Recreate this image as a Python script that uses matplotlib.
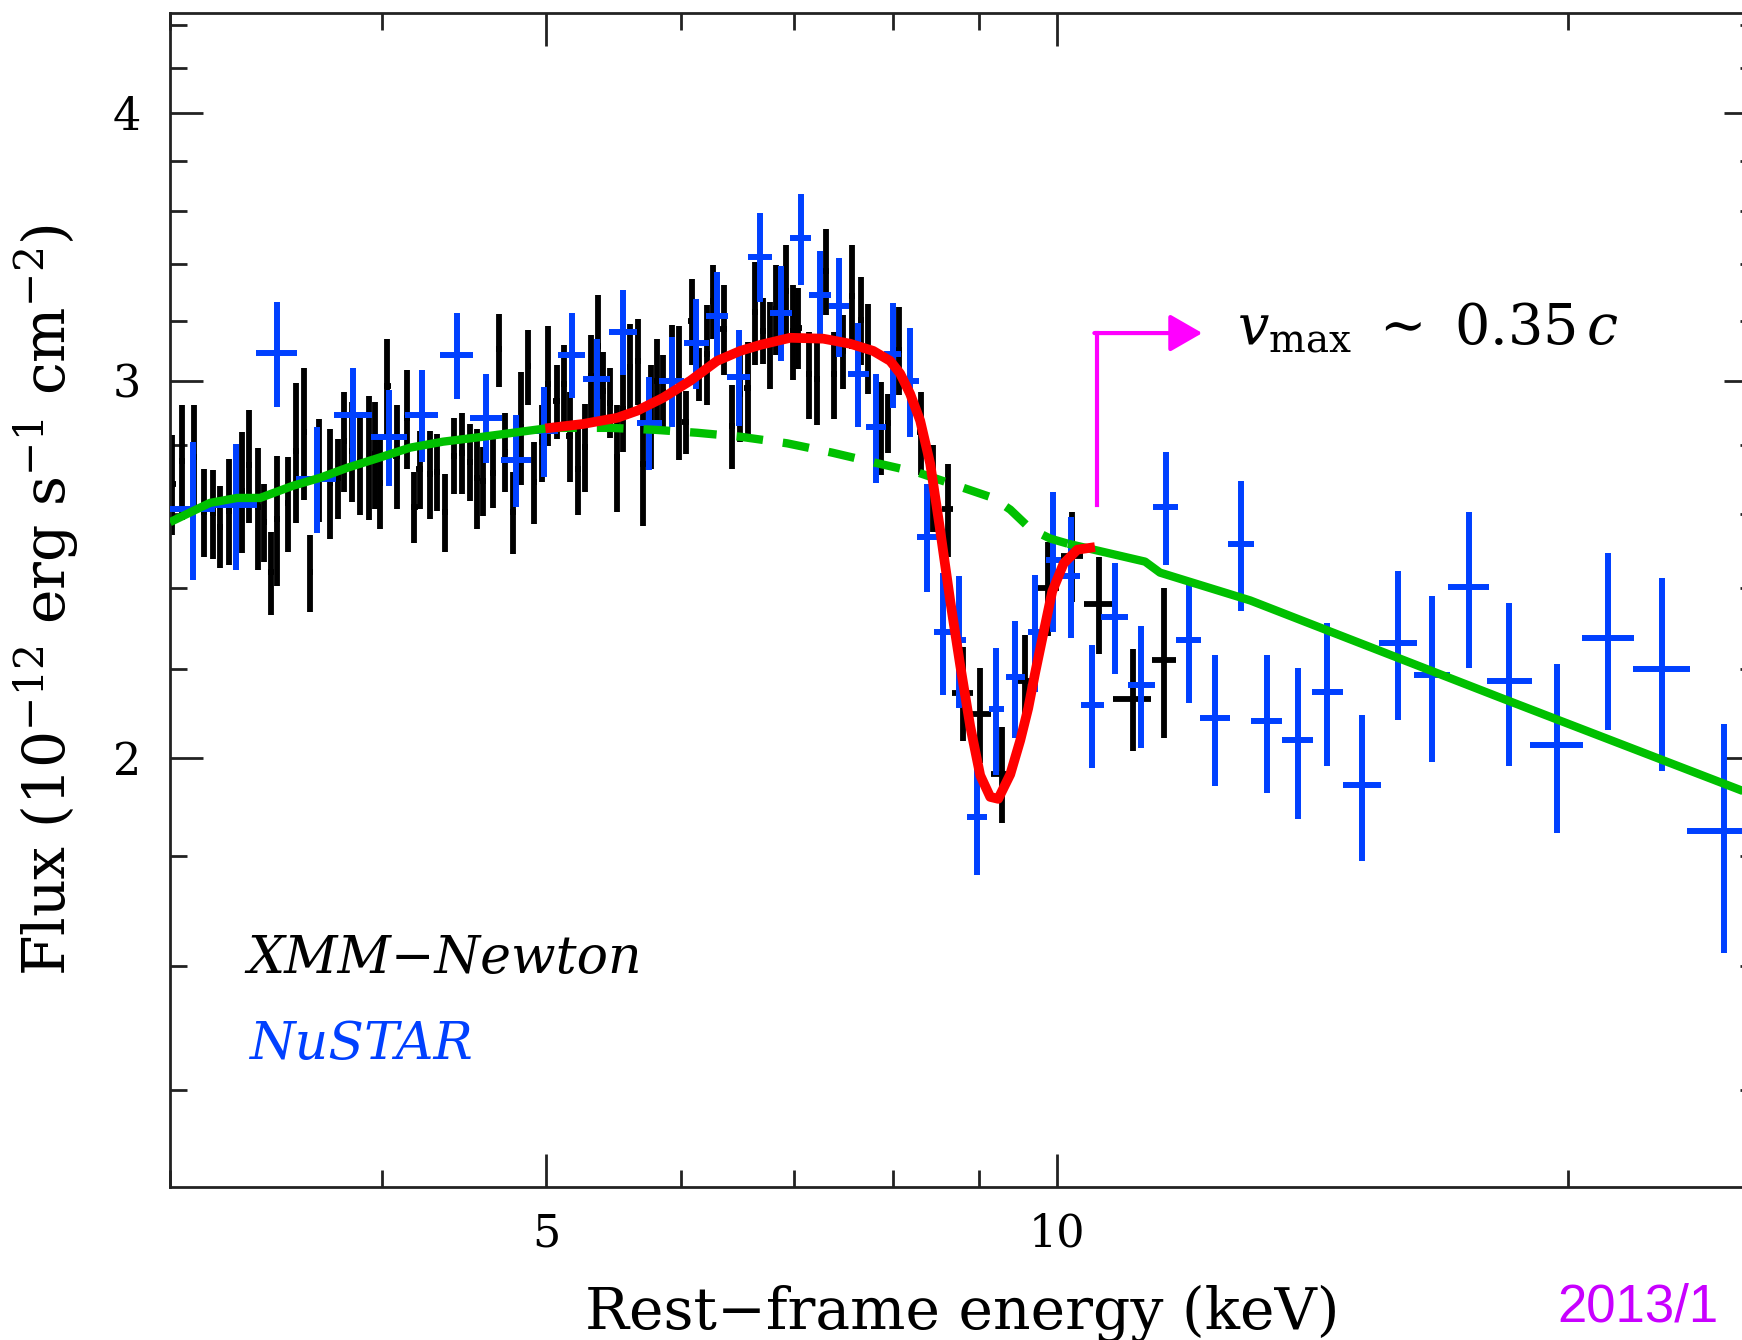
import matplotlib
matplotlib.use('Agg')
import matplotlib.pyplot as plt
from matplotlib.ticker import NullFormatter

plt.rcParams['font.family'] = 'DejaVu Serif'
plt.rcParams['mathtext.fontset'] = 'dejavuserif'

# XMM-Newton spectrum (keV, 1e-12 erg/s/cm2)
xmm_e = [3.01, 3.05, 3.10, 3.14, 3.18, 3.21, 3.25, 3.31, 3.34, 3.38, 3.41, 3.44, 3.47, 3.52, 3.56,
         3.60, 3.63, 3.67, 3.73, 3.77, 3.80, 3.84, 3.88, 3.93, 3.96, 3.99, 4.03, 4.08, 4.14, 4.18,
         4.21, 4.27, 4.31, 4.36, 4.41, 4.46, 4.51, 4.55, 4.59, 4.65, 4.69, 4.73, 4.78, 4.83, 4.88,
         4.92, 4.97, 5.01, 5.07, 5.12, 5.16, 5.22, 5.27, 5.31, 5.36, 5.40, 5.45, 5.50, 5.55, 5.60,
         5.66, 5.70, 5.76, 5.81, 5.86, 5.93, 5.99, 6.04, 6.09, 6.15, 6.22, 6.27, 6.36, 6.43, 6.50,
         6.57, 6.64, 6.71, 6.77, 6.83, 6.92, 6.99, 7.04, 7.14, 7.22, 7.31, 7.39, 7.48, 7.57, 7.66,
         7.74, 7.87, 7.95, 8.07, 8.31, 8.45, 8.62, 8.80, 9.01, 9.28, 9.58, 9.88, 10.20, 10.58,
         11.08, 11.57]
xmm_f = [2.686, 2.753, 2.763, 2.606, 2.602, 2.565, 2.609, 2.666, 2.741, 2.620, 2.577, 2.442, 2.587,
         2.630, 2.783, 2.840, 2.442, 2.728, 2.689, 2.703, 2.813, 2.783, 2.749, 2.768, 2.773, 2.689,
         2.984, 2.768, 2.882, 2.620, 2.728, 2.714, 2.720, 2.605, 2.768, 2.776, 2.750, 2.703, 2.694,
         2.718, 3.103, 2.780, 2.606, 2.854, 3.047, 2.691, 2.808, 2.990, 2.936, 2.990, 2.828, 2.730,
         2.795, 3.016, 3.115, 2.968, 2.930, 2.763, 2.910, 3.045, 3.065, 2.744, 2.889, 3.000, 2.963,
         3.032, 2.968, 2.869, 3.200, 3.021, 3.088, 3.269, 3.173, 2.858, 2.957, 2.976, 3.229, 3.166,
         3.120, 3.242, 3.305, 3.164, 3.176, 3.021, 3.006, 3.376, 3.021, 3.098, 3.287, 3.203, 3.108,
         2.854, 2.866, 3.101, 2.838, 2.675, 2.613, 2.145, 2.097, 1.966, 2.173, 2.402, 2.485, 2.359,
         2.132, 2.223]
xmm_err = [0.144, 0.169, 0.159, 0.123, 0.124, 0.113, 0.149, 0.172, 0.165, 0.172, 0.107, 0.109, 0.181,
           0.134, 0.209, 0.201, 0.101, 0.151, 0.159, 0.116, 0.151, 0.150, 0.152, 0.184, 0.159, 0.130,
           0.154, 0.155, 0.153, 0.101, 0.113, 0.127, 0.113, 0.108, 0.113, 0.121, 0.115, 0.145, 0.101,
           0.102, 0.122, 0.117, 0.115, 0.173, 0.123, 0.119, 0.116, 0.193, 0.117, 0.129, 0.137, 0.132,
           0.132, 0.136, 0.174, 0.128, 0.110, 0.159, 0.130, 0.144, 0.142, 0.177, 0.161, 0.139, 0.123,
           0.153, 0.214, 0.097, 0.148, 0.086, 0.166, 0.130, 0.153, 0.129, 0.148, 0.152, 0.179, 0.112,
           0.146, 0.157, 0.167, 0.162, 0.137, 0.141, 0.145, 0.156, 0.141, 0.123, 0.184, 0.151, 0.150,
           0.143, 0.091, 0.147, 0.127, 0.125, 0.131, 0.109, 0.107, 0.102, 0.109, 0.121, 0.119, 0.122,
           0.116, 0.179]
xmm_de = ([0.013] * 26 + [0.018] * 21 + [0.022] * 20 + [0.027] * 15 + [0.031] * 12
          + [0.045, 0.05, 0.06, 0.125, 0.128, 0.139, 0.143, 0.147, 0.152, 0.208, 0.286, 0.189])

# NuSTAR spectrum
nu_e = [3.094, 3.280, 3.468, 3.661, 3.846, 4.039, 4.224, 4.427, 4.607, 4.797, 4.985, 5.176, 5.355,
        5.547, 5.749, 5.929, 6.128, 6.302, 6.492, 6.684, 6.874, 7.063, 7.251, 7.440, 7.635, 7.823,
        8.003, 8.193, 8.385, 8.569, 8.757, 8.970, 9.208, 9.449, 9.709, 9.949, 10.19, 10.49, 10.82,
        11.21, 11.59, 11.96, 12.40, 12.84, 13.30, 13.86, 14.43, 15.13, 15.89, 16.64, 17.49, 18.48,
        19.71, 21.13, 22.74, 24.74]
nu_de = [0.0945, 0.098, 0.0965, 0.0994, 0.099, 0.0987, 0.0946, 0.102, 0.100, 0.0977, 0.0947, 0.0949,
         0.098, 0.105, 0.0976, 0.1006, 0.104, 0.094, 0.101, 0.109, 0.103, 0.101, 0.108, 0.101, 0.109,
         0.106, 0.092, 0.0945, 0.114, 0.105, 0.077, 0.122, 0.094, 0.122, 0.092, 0.101, 0.131, 0.164,
         0.198, 0.205, 0.197, 0.203, 0.253, 0.227, 0.280, 0.292, 0.304, 0.390, 0.410, 0.407, 0.487,
         0.565, 0.709, 0.746, 0.880, 1.209]
nu_f = [2.615, 2.626, 3.091, 2.700, 2.892, 2.825, 2.892, 3.085, 2.883, 2.756, 2.843, 3.085, 3.006,
        3.163, 2.868, 3.000, 3.125, 3.217, 3.013, 3.428, 3.228, 3.498, 3.291, 3.252, 3.023, 2.856,
        3.088, 3.000, 2.537, 2.291, 2.271, 1.878, 2.107, 2.181, 2.291, 2.475, 2.433, 2.118, 2.328,
        2.163, 2.620, 2.271, 2.087, 2.518, 2.080, 2.038, 2.148, 1.942, 2.264, 2.186, 2.404, 2.172,
        2.029, 2.276, 2.200, 1.848]
nu_err = [0.1925, 0.178, 0.173, 0.154, 0.149, 0.147, 0.143, 0.143, 0.138, 0.136, 0.137, 0.141, 0.132,
          0.144, 0.143, 0.145, 0.151, 0.156, 0.154, 0.164, 0.165, 0.171, 0.159, 0.173, 0.169, 0.167,
          0.174, 0.176, 0.147, 0.150, 0.161, 0.115, 0.144, 0.137, 0.144, 0.186, 0.158, 0.140, 0.138,
          0.141, 0.159, 0.149, 0.146, 0.175, 0.154, 0.165, 0.165, 0.152, 0.180, 0.195, 0.200, 0.190,
          0.184, 0.216, 0.227, 0.226]

# continuum model (green) and full model with absorption (red)
cont_e = [3.0, 3.167, 3.286, 3.390, 3.545, 3.678, 3.815, 3.974, 4.156, 4.346, 4.589, 5.026,
          5.452, 5.795, 6.136, 6.505, 6.933, 7.370, 7.813, 8.283, 8.805, 9.170, 9.385, 9.643, 9.908,
          10.15, 11.27, 11.50, 13.00, 18.25, 25.86]
cont_f = [2.577, 2.631, 2.645, 2.645, 2.680, 2.703, 2.732, 2.760, 2.792, 2.810, 2.825, 2.852,
          2.852, 2.846, 2.837, 2.825, 2.805, 2.777, 2.747, 2.718, 2.674, 2.645, 2.612, 2.559, 2.532,
          2.518, 2.470, 2.441, 2.369, 2.134, 1.919]
model_e = [5.026, 5.256, 5.504, 5.656, 5.859, 6.078, 6.304, 6.505, 6.684, 6.962, 7.281, 7.552, 7.792,
           7.973, 8.083, 8.193, 8.305, 8.419, 8.534, 8.650, 8.769, 8.888, 9.010, 9.133, 9.233, 9.385,
           9.513, 9.617, 9.709, 9.802, 9.935, 10.09, 10.28, 10.46]
model_f = [2.852, 2.864, 2.883, 2.905, 2.946, 3.000, 3.065, 3.098, 3.118, 3.142, 3.139, 3.122, 3.098,
           3.065, 3.023, 2.958, 2.874, 2.744, 2.554, 2.369, 2.209, 2.070, 1.963, 1.918, 1.914, 1.965,
           2.038, 2.110, 2.193, 2.274, 2.392, 2.465, 2.502, 2.507]

fig = plt.figure(figsize=(17.42, 13.40), dpi=100)
ax = fig.add_axes([0.09759, 0.11418, 0.91102, 0.87612])
ax.set_xscale('log')
ax.set_yscale('log')

ax.errorbar(xmm_e, xmm_f, yerr=xmm_err, xerr=xmm_de, fmt='none', ecolor='black',
            elinewidth=4.2, capsize=0, zorder=2)
ax.errorbar(nu_e, nu_f, yerr=nu_err, xerr=nu_de, fmt='none', ecolor='#0040ff',
            elinewidth=4.3, capsize=0, zorder=3)

# continuum: solid outside the absorbed band, dashed beneath the red model
lo = [i for i, e in enumerate(cont_e) if e <= 5.03]
mid = [i for i, e in enumerate(cont_e) if 5.02 <= e <= 10.16]
hi = [i for i, e in enumerate(cont_e) if e >= 10.14]
for idx in (lo, hi):
    ax.plot([cont_e[i] for i in idx], [cont_f[i] for i in idx], color='#00c000', lw=6,
            solid_capstyle='butt', zorder=4)
ax.plot([cont_e[i] for i in mid], [cont_f[i] for i in mid], color='#00c000', lw=6,
        dashes=(3.2, 2.4), zorder=4)
ax.plot(model_e, model_f, color='#ff0000', lw=7, solid_joinstyle='round', zorder=5)

# velocity marker
ax.plot([10.56, 10.56], [2.625, 3.158], color='#ff00ff', lw=3, zorder=6)
ax.annotate('', xy=(12.18, 3.158), xytext=(10.52, 3.158),
            arrowprops=dict(arrowstyle='-|>,head_length=0.4,head_width=0.23', color='#ff00ff',
                            lw=3, mutation_scale=50, shrinkA=0, shrinkB=0), zorder=6)
ax.text(12.77, 3.17, r'$v_{\rm max}\ \sim\ 0.35\,c$', fontsize=40, va='center', ha='left')

ax.text(0.049, 0.1823, 'XMM\u2212Newton', transform=ax.transAxes, fontsize=37.5, style='italic',
        color='black', va='baseline')
ax.text(0.050, 0.109, 'NuSTAR', transform=ax.transAxes, fontsize=37.5, style='italic',
        color='#0040ff', va='baseline')

ax.set_xlim(3, 25.86)
ax.set_ylim(1.261, 4.455)
ax.set_xticks([5, 10])
ax.set_xticklabels(['5', '10'])
ax.set_xticks([3, 4, 6, 7, 8, 9, 20], minor=True)
ax.set_yticks([2, 3, 4])
ax.set_yticklabels(['2', '3', '4'])
ax.set_yticks([1.4, 1.6, 1.8, 2.2, 2.4, 2.6, 2.8, 3.2, 3.4, 3.6, 3.8, 4.2, 4.4], minor=True)
ax.xaxis.set_minor_formatter(NullFormatter())
ax.yaxis.set_minor_formatter(NullFormatter())
ax.tick_params(which='both', direction='in', top=True, right=True, width=2, color='#222222')
ax.tick_params(which='major', length=24, labelsize=32)
ax.tick_params(which='minor', length=12)
ax.tick_params(axis='x', which='major', pad=18)
ax.tick_params(axis='y', which='major', pad=21)
for s in ax.spines.values():
    s.set_linewidth(2)
    s.set_color('#222222')

fig.text(962 / 1742, 1 - 1329 / 1340, 'Rest\u2212frame energy (keV)', fontsize=42,
         ha='center', va='baseline')
fig.text(46 / 1742, 1 - 600 / 1340, r'Flux (10$^{-12}$ erg s$^{-1}$ cm$^{-2}$)', fontsize=42,
         rotation=90, ha='center', va='center')
fig.text(1557 / 1742, 1 - 1322 / 1340, '2013/1', fontsize=38, color='#c800ff', ha='left',
         va='baseline', family='Liberation Sans')

fig.savefig('out.png', dpi=100)
